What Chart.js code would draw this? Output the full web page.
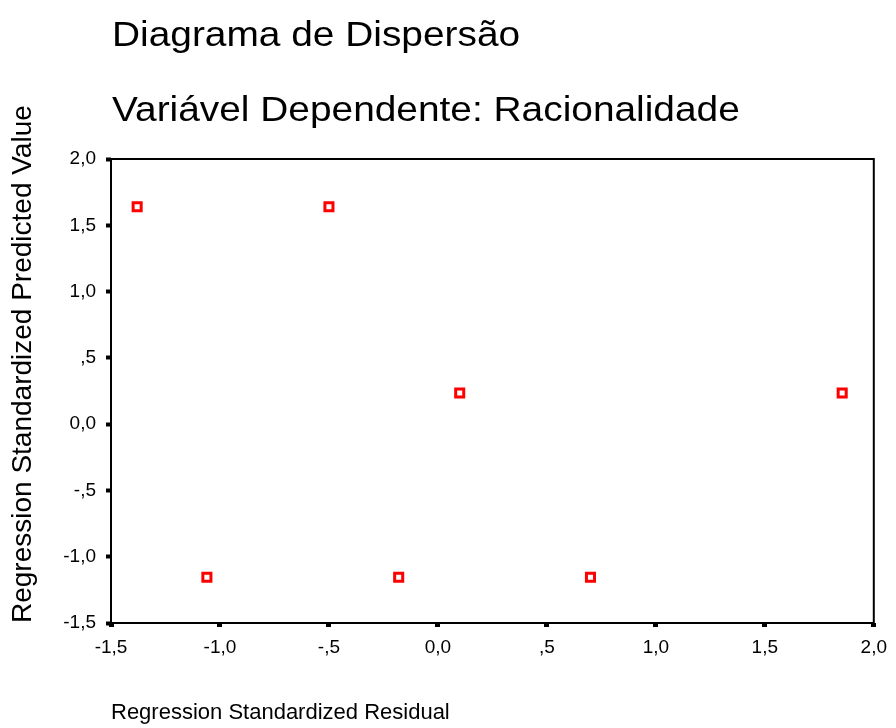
<!DOCTYPE html>
<html lang="pt">
<head>
<meta charset="utf-8">
<title>Diagrama de Dispersão</title>
<script src="https://cdn.jsdelivr.net/npm/chart.js@4.4.1/dist/chart.umd.min.js"></script>
<style>
  html, body { margin: 0; padding: 0; background: #fff; }
  #wrap { position: relative; width: 896px; height: 728px; overflow: hidden; }
  #chart { position: absolute; left: 0; top: 0; }
  .titulo {
    position: absolute; left: 112px; margin: 0;
    font: 35px/35px Arial, "Liberation Sans", sans-serif; color: #000;
    white-space: nowrap; transform: scaleX(1.11); transform-origin: 0 0;
  }
</style>
</head>
<body>
<div id="wrap">
  <canvas id="chart" width="896" height="728"></canvas>
  <div class="titulo" style="top:16px">Diagrama de Dispersão</div>
  <div class="titulo" style="top:91px">Variável Dependente: Racionalidade</div>
</div>
<script>
// Valores (resíduo padronizado x valor previsto padronizado)
const residuos = [-1.38, -0.50, 0.10, 1.855, -1.06, -0.18, 0.70];
const previstos = [1.64, 1.64, 0.235, 0.235, -1.155, -1.155, -1.155];

const xTickValues = [-1.5, -1, -0.5, 0, 0.5, 1, 1.5, 2];
const xTickLabels = ['-1,5', '-1,0', '-,5', '0,0', ',5', '1,0', '1,5', '2,0'];
const yTickValues = [-1.5, -1, -0.5, 0, 0.5, 1, 1.5, 2];
const yTickLabels = ['-1,5', '-1,0', '-,5', '0,0', ',5', '1,0', '1,5', '2,0'];

const fonte = 'Arial, "Liberation Sans", sans-serif';

(function () {
  'use strict';

  const pontos = residuos.map((x, i) => ({ x: x, y: previstos[i] }));

  // moldura preta à volta da área do gráfico
  const moldura = {
    id: 'moldura',
    afterDatasetsDraw(chart) {
      const a = chart.chartArea, ctx = chart.ctx;
      ctx.save();
      ctx.strokeStyle = '#000';
      ctx.lineWidth = 2;
      ctx.strokeRect(a.left, a.top, a.right - a.left, a.bottom - a.top);
      ctx.restore();
    }
  };

  new Chart(document.getElementById('chart'), {
    type: 'scatter',
    data: {
      datasets: [{
        data: pontos,
        pointStyle: 'rect',
        pointRadius: 5.7,
        pointHoverRadius: 5.7,
        borderWidth: 3,
        borderColor: '#ff0000',
        backgroundColor: '#ffffff'
      }]
    },
    options: {
      responsive: false,
      animation: false,
      layout: { padding: { top: 159, right: 17, left: 0, bottom: 0 } },
      plugins: { legend: { display: false }, tooltip: { enabled: false } },
      scales: {
        x: {
          type: 'linear',
          min: -1.5,
          max: 2,
          afterBuildTicks: s => { s.ticks = xTickValues.map(v => ({ value: v })); },
          afterFit: s => { s.height = 105; },
          border: { display: false },
          grid: { drawOnChartArea: false, drawTicks: true, tickLength: 4, tickWidth: 5, tickColor: '#000' },
          ticks: {
            color: '#000',
            padding: 9,
            maxRotation: 0,
            font: { family: fonte, size: 19 },
            callback: (v, i) => xTickLabels[i]
          },
          title: {
            display: true,
            text: 'Regression Standardized Residual',
            align: 'start',
            color: '#000',
            padding: { top: 0, bottom: 2 },
            font: { family: fonte, size: 22 }
          }
        },
        y: {
          type: 'linear',
          min: -1.5,
          max: 2,
          afterBuildTicks: s => { s.ticks = yTickValues.map(v => ({ value: v })); },
          afterFit: s => { s.width = 111; },
          border: { display: false },
          grid: { drawOnChartArea: false, drawTicks: true, tickLength: 5, tickWidth: 4, tickColor: '#000' },
          ticks: {
            color: '#000',
            padding: 10,
            font: { family: fonte, size: 19 },
            callback: (v, i) => yTickLabels[i]
          },
          title: {
            display: true,
            text: 'Regression Standardized Predicted Value',
            align: 'start',
            color: '#000',
            padding: { top: 6, bottom: 0 },
            font: { family: fonte, size: 28 }
          }
        }
      }
    },
    plugins: [moldura]
  });
})();
</script>
</body>
</html>
